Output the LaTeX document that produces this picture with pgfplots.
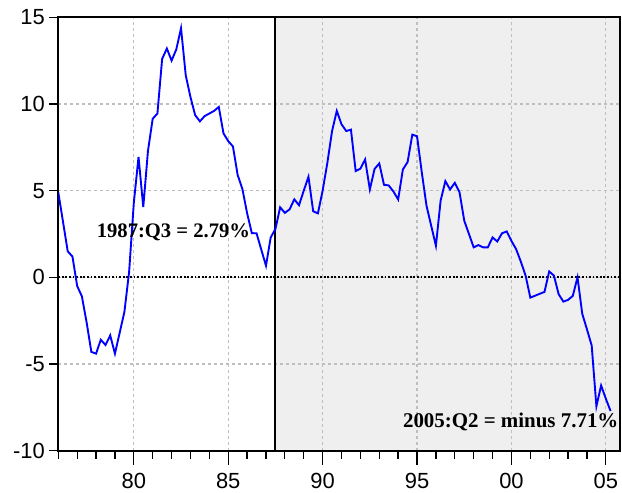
\documentclass[border=0pt]{standalone}
\usepackage{fontspec}
\setmainfont{Liberation Sans}
\newfontfamily\serifbf{Liberation Serif}
\usepackage{pgfplots}
\pgfplotsset{compat=1.18}
\definecolor{shadegray}{RGB}{239,239,239}
\definecolor{gridc}{RGB}{190,190,190}
\begin{document}
\begin{tikzpicture}
\begin{axis}[
  set layers=standard,
  scale only axis,
  width=561.7bp, height=433.4bp,
  xmin=1976, xmax=2005.75,
  ymin=-10, ymax=15,
  xtick={1980,1985,1990,1995,2000,2005},
  xticklabels={80,85,90,95,00,05},
  minor xtick={1976,1977,...,2005},
  extra x ticks={1980,1985,1990,1995,2000,2005},
  extra x tick labels={},
  extra x tick style={major tick length=14bp, grid=none},
  ytick={-10,-5,0,5,10,15},
  yticklabels={-10,-5,0,5,10,15},
  tick align=outside,
  xtick pos=left, ytick pos=left,
  major tick length=9bp, minor tick length=8bp,
  tick style={black, line width=1.3pt},
  axis line style={black, line width=1.8pt},
  grid=major,
  major grid style={gridc, dash pattern=on 3bp off 3bp, line width=1.1bp},
  tick label style={font=\fontsize{22}{22}\selectfont},
  xticklabel style={yshift=-10bp},
  yticklabel style={xshift=-1bp},
]
\pgfonlayer{axis background}
\fill[shadegray] (axis cs:1987.5,-10) rectangle (axis cs:2005.75,15);
\endpgfonlayer
\addplot[black, line width=1.8pt, dash pattern=on 1.8pt off 1.8pt] coordinates {(1976,0) (2005.75,0)};
\addplot[black, line width=1.9pt] coordinates {(1987.5,-10) (1987.5,15)};
\addplot[blue, line width=1.9pt] coordinates {
(1976.00,4.9) (1976.25,3.2) (1976.50,1.5) (1976.75,1.2)
(1977.00,-0.5) (1977.25,-1.1) (1977.50,-2.6) (1977.75,-4.3)
(1978.00,-4.4) (1978.25,-3.6) (1978.50,-3.9) (1978.75,-3.35)
(1979.00,-4.4) (1979.25,-3.2) (1979.50,-2.0) (1979.75,0.3)
(1980.00,4.3) (1980.25,6.95) (1980.50,4.05) (1980.75,7.3)
(1981.00,9.15) (1981.25,9.45) (1981.50,12.6) (1981.75,13.2)
(1982.00,12.5) (1982.25,13.15) (1982.50,14.37) (1982.75,11.65)
(1983.00,10.4) (1983.25,9.35) (1983.50,9.0) (1983.75,9.3)
(1984.00,9.45) (1984.25,9.6) (1984.50,9.83) (1984.75,8.3)
(1985.00,7.86) (1985.25,7.55) (1985.50,5.9) (1985.75,5.1)
(1986.00,3.7) (1986.25,2.55) (1986.50,2.54) (1986.75,1.6)
(1987.00,0.67) (1987.25,2.3) (1987.50,2.79) (1987.75,4.04)
(1988.00,3.72) (1988.25,3.92) (1988.50,4.5) (1988.75,4.16)
(1989.00,5.0) (1989.25,5.8) (1989.50,3.81) (1989.75,3.69)
(1990.00,5.0) (1990.25,6.6) (1990.50,8.44) (1990.75,9.6)
(1991.00,8.83) (1991.25,8.44) (1991.50,8.52) (1991.75,6.13)
(1992.00,6.27) (1992.25,6.8) (1992.50,5.07) (1992.75,6.25)
(1993.00,6.57) (1993.25,5.34) (1993.50,5.3) (1993.75,4.95)
(1994.00,4.49) (1994.25,6.22) (1994.50,6.65) (1994.75,8.23)
(1995.00,8.14) (1995.25,6.07) (1995.50,4.14) (1995.75,2.98)
(1996.00,1.82) (1996.25,4.43) (1996.50,5.55) (1996.75,5.07)
(1997.00,5.45) (1997.25,4.91) (1997.50,3.27) (1997.75,2.5)
(1998.00,1.73) (1998.25,1.86) (1998.50,1.73) (1998.75,1.73)
(1999.00,2.3) (1999.25,2.07) (1999.50,2.54) (1999.75,2.65)
(2000.00,2.1) (2000.25,1.62) (2000.50,0.9) (2000.75,0.1)
(2001.00,-1.17) (2001.25,-1.06) (2001.50,-0.95) (2001.75,-0.84)
(2002.00,0.34) (2002.25,0.1) (2002.50,-0.97) (2002.75,-1.4)
(2003.00,-1.3) (2003.25,-1.07) (2003.50,0.0) (2003.75,-2.1)
(2004.00,-3.0) (2004.25,-3.93) (2004.50,-7.44) (2004.75,-6.24)
(2005.00,-7.0) (2005.25,-7.71)
};
\node[anchor=west, inner sep=0pt, font=\serifbf\bfseries\fontsize{20.7}{20.7}\selectfont] at (axis cs:1978.03,2.58) {1987:Q3 = 2.79\%};
\node[anchor=west, inner sep=0pt, font=\serifbf\bfseries\fontsize{21}{21}\selectfont] at (axis cs:1994.25,-8.35) {2005:Q2 = minus 7.71\%};
\end{axis}
\pgfresetboundingbox
\path[use as bounding box] (-58.3bp,-42.3bp) rectangle (563.7bp,450.7bp);
\end{tikzpicture}
\end{document}
